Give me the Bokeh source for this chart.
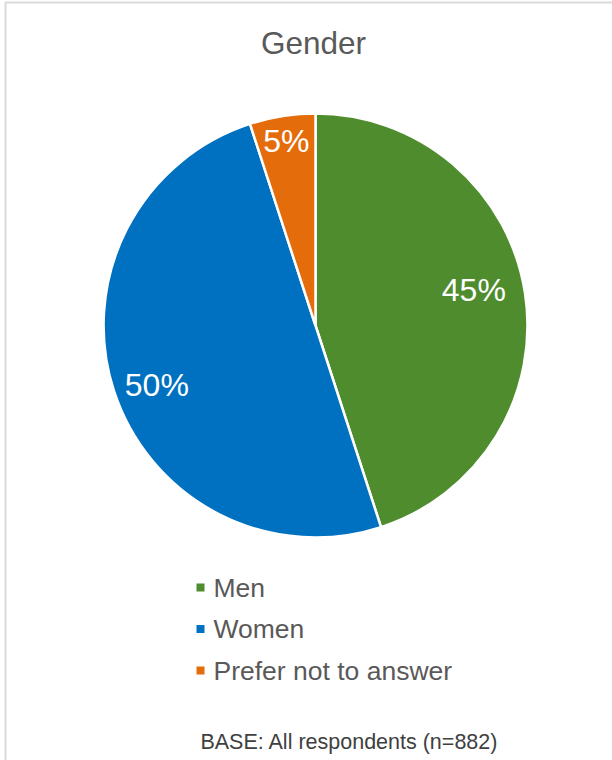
import numpy as np
from bokeh.plotting import figure
from bokeh.models import ColumnDataSource, Range1d
from bokeh.core.properties import value
from bokeh.embed import file_html
from bokeh.resources import INLINE

# ---- data ----
chart_title = "Gender"
categories = ["Men", "Women", "Prefer not to answer"]
shares = [45, 50, 5]
colors = ["#4E8C2E", "#0070C0", "#E46C0A"]
base_note = "BASE: All respondents (n=882)"

# ---- layout (pixel space, y measured from the top) ----
W, H = 612, 760
CX, CY, R = 315, 325, 212
label_radius = [0.765, 0.80, 0.88]
label_nudge_deg = [3.5, 2.7, 0.0]
FONT = value("Liberation Sans")
TEXT_GRAY = "#595959"


def sy(y):
    """Top-down pixel row -> data y."""
    return H - y


p = figure(width=W, height=H, output_backend="svg", toolbar_location=None,
           x_range=Range1d(0, W), y_range=Range1d(0, H), min_border=0,
           background_fill_color="white", border_fill_color="white")
p.axis.visible = False
p.grid.visible = False
p.outline_line_color = None

# chart frame (left and top edges visible)
p.line(x=[5, 5, W + 10], y=[-10, sy(2), sy(2)], line_color="#D9D9D9", line_width=2)

# ---- pie ----
frac = np.array(shares, dtype=float) / sum(shares)
cum = np.cumsum(frac)
prev = cum - frac
start = np.pi / 2 - 2 * np.pi * prev
end = np.pi / 2 - 2 * np.pi * cum
mid = np.pi / 2 - 2 * np.pi * (prev + frac / 2) + np.radians(label_nudge_deg)

pie = ColumnDataSource(dict(
    start=start, end=end, color=colors, cat=categories,
    lx=CX + np.array(label_radius) * R * np.cos(mid),
    ly=sy(CY) + np.array(label_radius) * R * np.sin(mid),
    label=[f"{s}%" for s in shares],
))
p.wedge(x=CX, y=sy(CY), radius=R, start_angle="start", end_angle="end",
        direction="clock", fill_color="color", line_color="white",
        line_width=2.5, source=pie)
p.text(x="lx", y="ly", text="label", source=pie, text_color="white",
       text_font=FONT, text_font_size="32px", text_align="center",
       text_baseline="middle")

# ---- title ----
p.text(x=[313], y=[sy(42)], text=[chart_title], text_color=TEXT_GRAY,
       text_font=FONT, text_font_size="31.5px", text_align="center",
       text_baseline="middle")

# ---- legend ----
leg_y = [sy(587 + 41.5 * i) for i in range(len(categories))]
leg = ColumnDataSource(dict(y=leg_y, color=colors, cat=categories))
p.rect(x=200, y="y", width=8, height=8, width_units="screen",
       height_units="screen", fill_color="color", line_color=None, source=leg)
p.text(x=213, y="y", text="cat", source=leg, text_color=TEXT_GRAY,
       text_font=FONT, text_font_size="26.5px", text_align="left",
       text_baseline="middle")

# ---- footnote ----
p.text(x=[349], y=[sy(741)], text=[base_note], text_color="#404040",
       text_font=FONT, text_font_size="21.5px", text_align="center",
       text_baseline="middle")

open("out.html", "w").write(file_html(p, INLINE))
